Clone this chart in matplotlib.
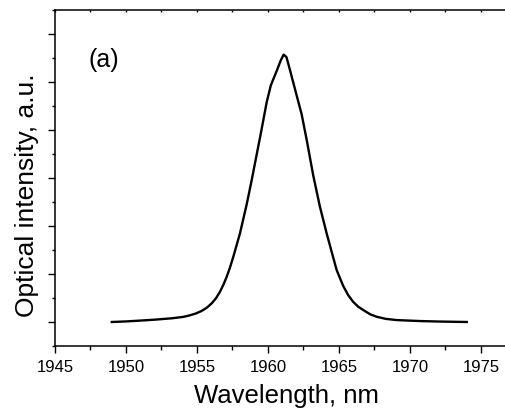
import matplotlib
matplotlib.use("Agg")
import matplotlib.pyplot as plt
from matplotlib.ticker import MultipleLocator, NullFormatter

plt.rcParams['font.family'] = ['Liberation Sans', 'DejaVu Sans']

wavelength = [1949.0, 1950.0, 1950.87, 1952.0, 1953.22, 1954.0, 1954.39, 1954.9, 1955.33,
              1955.7, 1956.04, 1956.35, 1956.62, 1956.85, 1957.09, 1957.33, 1957.56,
              1958.03, 1958.5, 1958.85, 1959.08, 1959.51, 1959.91, 1960.2, 1960.6,
              1960.9, 1961.1, 1961.3, 1961.55, 1962.02, 1962.37, 1962.73, 1963.19, 1963.66,
              1964.13, 1964.45, 1964.84, 1965.3, 1965.65, 1966.0, 1966.35, 1966.71,
              1967.2, 1967.65, 1968.3, 1969.06, 1970.7, 1972.0, 1974.0]
intensity = [0.0, 0.012, 0.027, 0.048, 0.077, 0.105, 0.13, 0.175, 0.23,
             0.30, 0.39, 0.50, 0.63, 0.77, 0.94, 1.14, 1.36,
             1.85, 2.45, 2.95, 3.30, 3.95, 4.58, 4.93, 5.22,
             5.45, 5.57, 5.52, 5.25, 4.72, 4.33, 3.79, 3.05, 2.40,
             1.85, 1.50, 1.08, 0.75, 0.56, 0.42, 0.32, 0.25,
             0.16, 0.11, 0.065, 0.04, 0.02, 0.01, 0.0]

W, H = 505, 409
fig = plt.figure(figsize=(W/100, H/100), dpi=100)
ax = fig.add_axes([55/W, 1-346/H, (519-55)/W, (346-10)/H])

ax.plot(wavelength, intensity, color='black', lw=1.7, solid_joinstyle='round')

ax.set_xlim(1945, 1977.68)
ax.set_ylim(-0.5, 6.5)

ax.xaxis.set_major_locator(MultipleLocator(5))
ax.xaxis.set_minor_locator(MultipleLocator(2.5))
ax.yaxis.set_major_locator(MultipleLocator(1))
ax.yaxis.set_minor_locator(MultipleLocator(0.5))
ax.yaxis.set_major_formatter(NullFormatter())

for s in ax.spines.values():
    s.set_linewidth(1.1)
ax.spines['right'].set_visible(False)

ax.tick_params(axis='x', which='major', direction='out', length=5, width=1.0,
               labelsize=12, pad=5)
ax.tick_params(axis='x', which='minor', direction='out', length=3, width=1.0)
ax.tick_params(axis='x', which='both', top=True)
ax.tick_params(axis='y', which='major', direction='out', length=5, width=1.0)
ax.tick_params(axis='y', which='minor', direction='out', length=2.5, width=1.0)

# top mirror ticks: tiny, inward
for t in ax.xaxis.get_major_ticks() + ax.xaxis.get_minor_ticks():
    t.tick2line.set_markersize(1.5)
    t.tick2line.set_marker(3)

fig.text(286.7/W, 6/H, 'Wavelength, nm', fontsize=18.5, ha='center', va='baseline')
fig.text(27/W, 1-195/H, 'Optical intensity, a.u.', fontsize=19, rotation=90,
         ha='center', va='center')
fig.text(88/W, 1-67/H, '(a)', fontsize=18, ha='left', va='baseline')

fig.savefig('out.png', dpi=100)
